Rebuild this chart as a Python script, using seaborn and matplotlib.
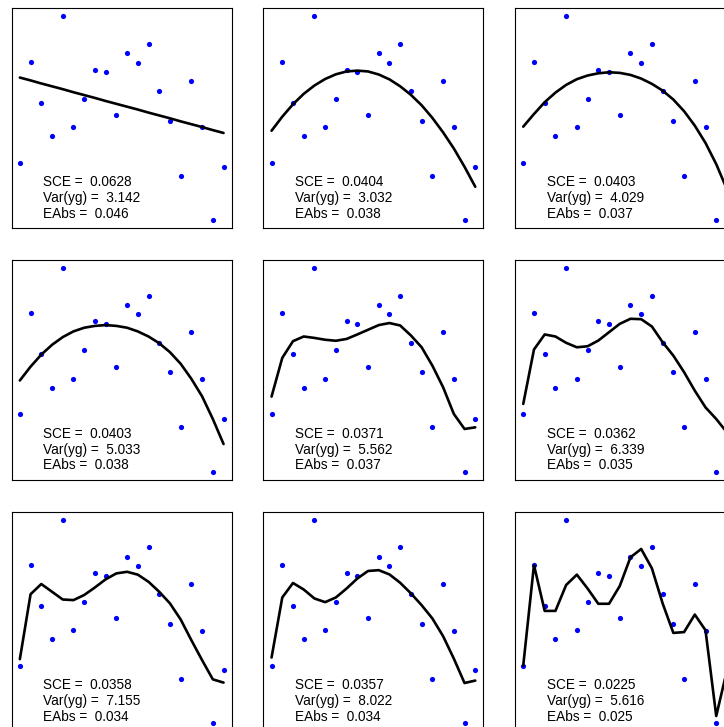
import numpy as np
import pandas as pd
import matplotlib
matplotlib.use("Agg")
import matplotlib.pyplot as plt
import seaborn as sns

# ---------------- data ----------------
x_obs = list(range(1, 21))
y_obs = [0.282, 0.777, 0.576, 0.413, 1.000, 0.457, 0.597, 0.739, 0.725, 0.516,
         0.819, 0.772, 0.864, 0.633, 0.488, 0.219, 0.685, 0.455, 0.000, 0.261]

fit_1 = [0.700, 0.686, 0.671, 0.657, 0.643, 0.628, 0.614, 0.600, 0.585, 0.571,
         0.557, 0.543, 0.528, 0.514, 0.500, 0.485, 0.471, 0.457, 0.442, 0.428]
fit_2 = [0.439, 0.508, 0.569, 0.620, 0.661, 0.693, 0.716, 0.730, 0.734, 0.730,
         0.715, 0.691, 0.657, 0.615, 0.564, 0.502, 0.431, 0.352, 0.262, 0.164]
fit_3 = [0.459, 0.521, 0.579, 0.626, 0.664, 0.692, 0.710, 0.721, 0.726, 0.723,
         0.713, 0.695, 0.669, 0.636, 0.592, 0.535, 0.464, 0.379, 0.275, 0.151]
fit_4 = [0.448, 0.516, 0.575, 0.623, 0.661, 0.689, 0.707, 0.716, 0.720, 0.716,
         0.707, 0.689, 0.664, 0.631, 0.587, 0.530, 0.456, 0.370, 0.259, 0.136]
fit_5 = [0.369, 0.559, 0.641, 0.664, 0.657, 0.648, 0.643, 0.652, 0.674, 0.697,
         0.720, 0.730, 0.718, 0.669, 0.611, 0.521, 0.415, 0.284, 0.210, 0.218]
fit_6 = [0.333, 0.600, 0.674, 0.664, 0.633, 0.611, 0.616, 0.644, 0.685, 0.726,
         0.751, 0.749, 0.713, 0.636, 0.570, 0.489, 0.398, 0.316, 0.259, 0.193]
fit_7 = [0.315, 0.634, 0.684, 0.646, 0.608, 0.605, 0.630, 0.667, 0.707, 0.736,
         0.744, 0.730, 0.695, 0.646, 0.589, 0.510, 0.408, 0.310, 0.216, 0.200]
fit_8 = [0.323, 0.618, 0.689, 0.657, 0.613, 0.595, 0.618, 0.662, 0.711, 0.748,
         0.752, 0.731, 0.690, 0.638, 0.580, 0.515, 0.428, 0.318, 0.198, 0.210]
fit_9 = [0.284, 0.777, 0.552, 0.552, 0.679, 0.730, 0.662, 0.587, 0.587, 0.674,
         0.815, 0.856, 0.761, 0.589, 0.444, 0.448, 0.534, 0.457, 0.036, 0.261]

sce = ["0.0628", "0.0404", "0.0403", "0.0403", "0.0371", "0.0362", "0.0358", "0.0357", "0.0225"]
var_yg = ["3.142", "3.032", "4.029", "5.033", "5.562", "6.339", "7.155", "8.022", "5.616"]
eabs = ["0.046", "0.038", "0.037", "0.038", "0.037", "0.035", "0.034", "0.034", "0.025"]

fits = [fit_1, fit_2, fit_3, fit_4, fit_5, fit_6, fit_7, fit_8, fit_9]

# ---------------- style ----------------
sns.set_style("white")
plt.rcParams["font.family"] = ["Liberation Sans", "DejaVu Sans"]

W, H = 724, 727
fig = plt.figure(figsize=(W / 100, H / 100), dpi=100)
fig.patch.set_facecolor("white")

pts = pd.DataFrame({"x": x_obs, "y": y_obs})

for k in range(9):
    r, c = divmod(k, 3)
    left = 11.7 + 251.7 * c
    top = 8.3 + 251.6 * r
    ax = fig.add_axes([left / W, 1 - (top + 220) / H, 220 / W, 220 / H])
    sns.scatterplot(data=pts, x="x", y="y", ax=ax, color="#0000FF", s=14,
                    linewidth=0, zorder=2)
    line = pd.DataFrame({"x": x_obs, "y": fits[k]})
    sns.lineplot(data=line, x="x", y="y", ax=ax, color="black", linewidth=1.9,
                 sort=False, estimator=None, zorder=3)
    ax.set_xlim(0.24, 20.76)
    ax.set_ylim(-0.04, 1.04)
    ax.set_xticks([])
    ax.set_yticks([])
    ax.set_xlabel("")
    ax.set_ylabel("")
    for sp in ax.spines.values():
        sp.set_visible(True)
        sp.set_color("black")
        sp.set_linewidth(0.8)
    lines_txt = [f"SCE =  {sce[k]}", f"Var(yg) =  {var_yg[k]}", f"EAbs =  {eabs[k]}"]
    for t, yy in zip(lines_txt, [0.210, 0.137, 0.066]):
        ax.text(0.144, yy, t, transform=ax.transAxes, ha="left", va="center",
                fontsize=9.8, color="black")

fig.savefig("out.png", dpi=100)
